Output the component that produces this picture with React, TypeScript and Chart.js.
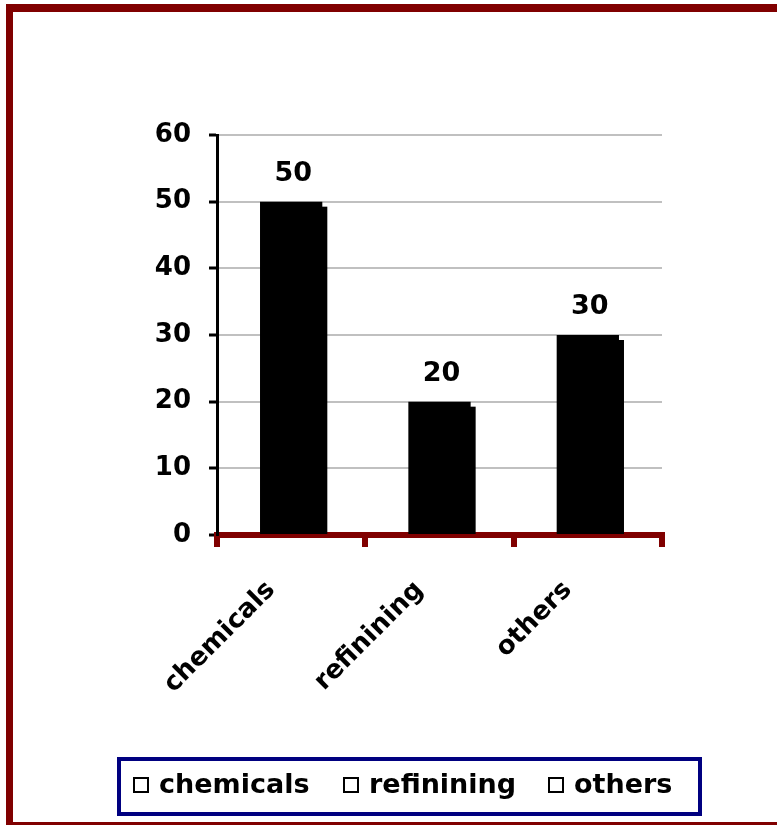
import React, { useEffect, useRef } from "react";
import { Chart, registerables } from "chart.js";

Chart.register(...registerables);

const categories = ["chemicals", "refinining", "others"];
const values = [50, 20, 30];
const yTicks = [0, 10, 20, 30, 40, 50, 60];

const FONT = "DejaVu Sans";

const shadowPlugin = {
  id: "barShadow",
  beforeDatasetsDraw(chart: any) {
    const ctx = chart.ctx;
    const meta = chart.getDatasetMeta(0);
    ctx.save();
    ctx.fillStyle = "#000000";
    meta.data.forEach((el: any) => {
      const { x, y, base, width } = el.getProps(["x", "y", "base", "width"], true);
      ctx.fillRect(x - width / 2 + 5, y + 5, width, base - y - 5);
    });
    ctx.restore();
  },
  afterDatasetsDraw(chart: any) {
    const ctx = chart.ctx;
    const meta = chart.getDatasetMeta(0);
    ctx.save();
    ctx.fillStyle = "#000000";
    ctx.font = `bold 27px "${FONT}"`;
    ctx.textAlign = "center";
    ctx.textBaseline = "alphabetic";
    meta.data.forEach((el: any, i: number) => {
      const { x, y } = el.getProps(["x", "y"], true);
      ctx.fillText(String(values[i]), x + 2, y - 21);
    });
    ctx.restore();
  },
};

const framePlugin = {
  id: "frameLegend",
  afterDraw(chart: any) {
    const ctx = chart.ctx;
    ctx.save();
    // outer frame
    ctx.fillStyle = "#800000";
    ctx.fillRect(6, 4, 7, 830);
    ctx.fillRect(6, 4, 780, 8);
    ctx.fillRect(6, 822, 780, 8);
    // legend box
    ctx.strokeStyle = "#000080";
    ctx.lineWidth = 4;
    ctx.strokeRect(119, 759, 581, 55);
    // legend items
    const boxX = [133, 343, 548];
    ctx.font = `bold 27px "${FONT}"`;
    ctx.textBaseline = "middle";
    ctx.textAlign = "left";
    categories.forEach((c, i) => {
      ctx.fillStyle = "#ffffff";
      ctx.fillRect(boxX[i], 777, 16, 16);
      ctx.strokeStyle = "#000000";
      ctx.lineWidth = 2;
      ctx.strokeRect(boxX[i] + 1, 778, 14, 14);
      ctx.fillStyle = "#000000";
      ctx.fillText(c, boxX[i] + 26, 786);
    });
    ctx.restore();
  },
};

export default function App() {
  const ref = useRef<HTMLCanvasElement | null>(null);
  useEffect(() => {
    document.body.style.margin = "0";
    const canvas = ref.current!;
    const chart = new Chart(canvas, {
      type: "bar",
      data: {
        labels: categories,
        datasets: [
          {
            data: values,
            backgroundColor: "#000000",
            borderWidth: 0,
            barPercentage: 0.42,
            categoryPercentage: 1,
          },
        ],
      },
      options: {
        responsive: false,
        animation: false,
        devicePixelRatio: 1,
        layout: { padding: { left: 0, top: 135, right: 115, bottom: 110 } },
        plugins: { legend: { display: false }, tooltip: { enabled: false } },
        scales: {
          x: {
            grid: {
              display: true,
              drawOnChartArea: false,
              drawTicks: true,
              tickLength: 12,
              color: "#800000",
              lineWidth: 6,
              offset: true,
            },
            border: { display: true, color: "#800000", width: 6 },
            ticks: {
              color: "#000000",
              font: { family: FONT, size: 26, weight: "bold" },
              minRotation: 45,
              maxRotation: 45,
              padding: 28,
              labelOffset: -20,
            },
            afterFit(scale: any) {
              scale.height = 180;
            },
          },
          y: {
            min: 0,
            max: 60,
            afterBuildTicks(scale: any) {
              scale.ticks = yTicks.map((v) => ({ value: v }));
            },
            grid: {
              color: "#c0c0c0",
              lineWidth: 2,
              tickColor: "#000000",
              tickWidth: 3,
              tickLength: 8,
            },
            border: { display: true, color: "#000000", width: 3 },
            ticks: {
              color: "#000000",
              font: { family: FONT, size: 26, weight: "bold" },
              padding: 18,
            },
            afterFit(scale: any) {
              scale.width = 217;
            },
          },
        },
      },
      plugins: [shadowPlugin, framePlugin],
    } as any);
    return () => chart.destroy();
  }, []);
  return <canvas ref={ref} width={777} height={825} style={{ display: "block" }} />;
}
